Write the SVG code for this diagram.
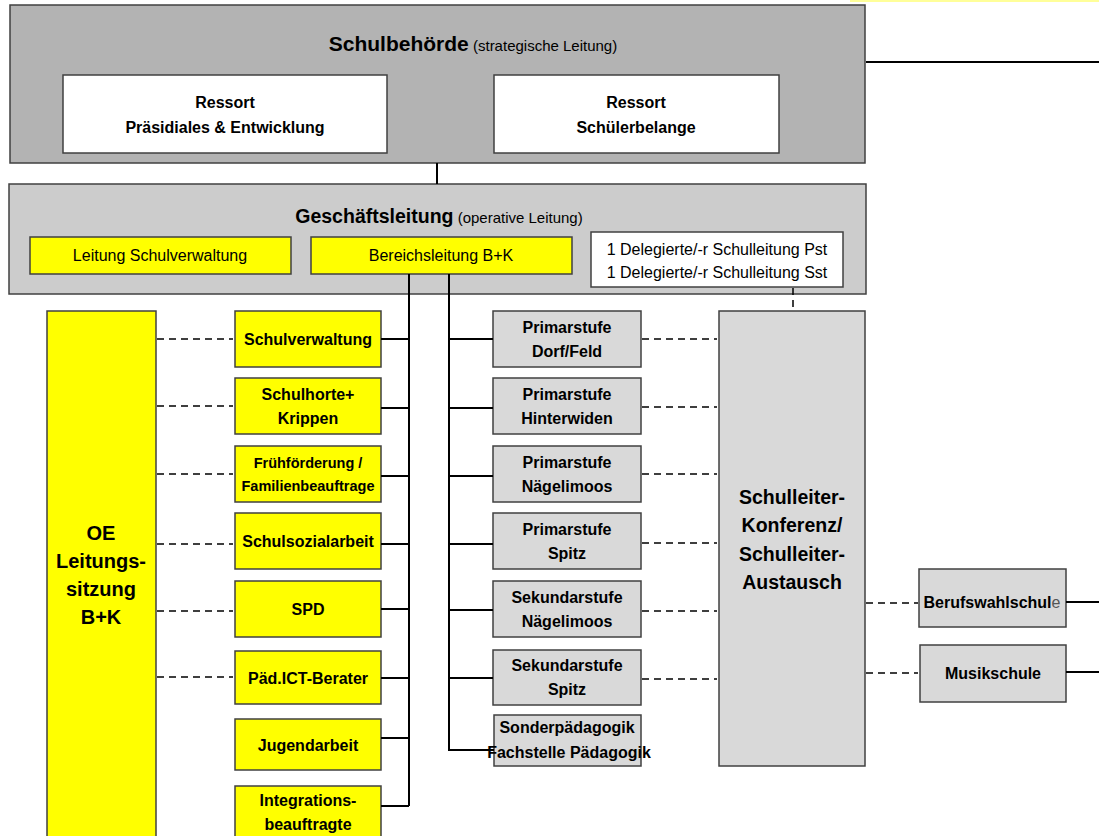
<svg xmlns="http://www.w3.org/2000/svg" width="1099" height="836" viewBox="0 0 1099 836">
<style>
text{font-family:"Liberation Sans",Arial,sans-serif;fill:#000;text-anchor:middle}
.b{font-weight:bold}
.box{stroke:#404040;stroke-width:1.5}
.y{fill:#ffff00}
.g{fill:#d9d9d9}
.w{fill:#ffffff}
.ln{stroke:#000;stroke-width:2;fill:none}
.d{stroke:#000;stroke-width:1.5;stroke-dasharray:7,5;fill:none}
.s16{font-size:16px}
</style>
<rect x="850" y="0" width="249" height="2" fill="#ffff99"/>
<g id="schulbehoerde">
<rect class="box" x="10" y="5" width="855" height="158" fill="#b3b3b3"/>
<text x="473" y="51"><tspan class="b" font-size="21">Schulbehörde</tspan><tspan font-size="15"> (strategische Leitung)</tspan></text>
</g>
<g id="ressort1">
<rect class="box w" x="63" y="75" width="324" height="78"/>
<text class="b s16" x="225" y="108">Ressort</text>
<text class="b s16" x="225" y="133">Präsidiales &amp; Entwicklung</text>
</g>
<g id="ressort2">
<rect class="box w" x="494" y="75" width="285" height="78"/>
<text class="b s16" x="636" y="108">Ressort</text>
<text class="b s16" x="636" y="133">Schülerbelange</text>
</g>
<g id="geschaeftsleitung">
<rect class="box" x="9" y="184" width="857" height="110" fill="#cccccc"/>
<text x="439" y="223"><tspan class="b" font-size="19.5">Geschäftsleitung</tspan><tspan font-size="15"> (operative Leitung)</tspan></text>
</g>
<g id="leitung-schulverwaltung">
<rect class="box y" x="30" y="237" width="261" height="37"/>
<text class="s16" x="160" y="261">Leitung Schulverwaltung</text>
</g>
<g id="bereichsleitung">
<rect class="box y" x="311" y="237" width="261" height="37"/>
<text class="s16" x="441" y="261">Bereichsleitung B+K</text>
</g>
<g id="delegierte">
<rect class="box w" x="591" y="232" width="252" height="55"/>
<text class="s16" x="717" y="255">1 Delegierte/-r Schulleitung Pst</text>
<text class="s16" x="717" y="278">1 Delegierte/-r Schulleitung Sst</text>
</g>
<g id="oe">
<rect class="box y" x="47" y="311" width="109" height="530"/>
<text class="b" font-size="20" x="101" y="540">OE</text>
<text class="b" font-size="20" x="101" y="568">Leitungs-</text>
<text class="b" font-size="20" x="101" y="596">sitzung</text>
<text class="b" font-size="20" x="101" y="624">B+K</text>
</g>
<g id="schulverwaltung">
<rect class="box y" x="235" y="311" width="146" height="56"/>
<text class="b s16" x="308" y="345">Schulverwaltung</text>
</g>
<g id="schulhorte">
<rect class="box y" x="235" y="378" width="146" height="56"/>
<text class="b s16" x="308" y="400">Schulhorte+</text>
<text class="b s16" x="308" y="424">Krippen</text>
</g>
<g id="fruehfoerderung">
<rect class="box y" x="235" y="446" width="146" height="56"/>
<text class="b" font-size="14.5" x="308" y="468">Frühförderung /</text>
<text class="b" font-size="14.5" x="308" y="491">Familienbeauftrage</text>
</g>
<g id="schulsozialarbeit">
<rect class="box y" x="235" y="513" width="146" height="56"/>
<text class="b s16" x="308" y="547">Schulsozialarbeit</text>
</g>
<g id="spd">
<rect class="box y" x="235" y="581" width="146" height="56"/>
<text class="b s16" x="308" y="615">SPD</text>
</g>
<g id="ict">
<rect class="box y" x="235" y="651" width="146" height="53"/>
<text class="b s16" x="308" y="684">Päd.ICT-Berater</text>
</g>
<g id="jugendarbeit">
<rect class="box y" x="235" y="719" width="146" height="51"/>
<text class="b s16" x="308" y="751">Jugendarbeit</text>
</g>
<g id="integration">
<rect class="box y" x="235" y="786" width="146" height="55"/>
<text class="b s16" x="308" y="806">Integrations-</text>
<text class="b s16" x="308" y="830">beauftragte</text>
</g>
<g id="ps-dorf">
<rect class="box g" x="493" y="311" width="148" height="56"/>
<text class="b s16" x="567" y="333">Primarstufe</text>
<text class="b s16" x="567" y="357">Dorf/Feld</text>
</g>
<g id="ps-hinterwiden">
<rect class="box g" x="493" y="378" width="148" height="56"/>
<text class="b s16" x="567" y="400">Primarstufe</text>
<text class="b s16" x="567" y="424">Hinterwiden</text>
</g>
<g id="ps-naegelimoos">
<rect class="box g" x="493" y="446" width="148" height="56"/>
<text class="b s16" x="567" y="468">Primarstufe</text>
<text class="b s16" x="567" y="492">Nägelimoos</text>
</g>
<g id="ps-spitz">
<rect class="box g" x="493" y="513" width="148" height="56"/>
<text class="b s16" x="567" y="535">Primarstufe</text>
<text class="b s16" x="567" y="559">Spitz</text>
</g>
<g id="ss-naegelimoos">
<rect class="box g" x="493" y="581" width="148" height="56"/>
<text class="b s16" x="567" y="603">Sekundarstufe</text>
<text class="b s16" x="567" y="627">Nägelimoos</text>
</g>
<g id="ss-spitz">
<rect class="box g" x="493" y="650" width="148" height="55"/>
<text class="b s16" x="567" y="671">Sekundarstufe</text>
<text class="b s16" x="567" y="695">Spitz</text>
</g>
<g id="sonderpaedagogik">
<rect class="box g" x="494" y="715" width="147" height="51"/>
<text class="b" font-size="16" x="567" y="733">Sonderpädagogik</text>
<text class="b" font-size="16" x="569" y="758">Fachstelle Pädagogik</text>
</g>
<g id="schulleiter">
<rect class="box g" x="719" y="311" width="146" height="455"/>
<text class="b" font-size="19.5" x="792" y="504">Schulleiter-</text>
<text class="b" font-size="19.5" x="792" y="532">Konferenz/</text>
<text class="b" font-size="19.5" x="792" y="561">Schulleiter-</text>
<text class="b" font-size="19.5" x="792" y="589">Austausch</text>
</g>
<g id="berufswahlschule">
<rect class="box g" x="919" y="569" width="147" height="58"/>
<text class="s16" x="992" y="608"><tspan class="b">Berufswahlschul</tspan><tspan fill="#555">e</tspan></text>
</g>
<g id="musikschule">
<rect class="box g" x="920" y="645" width="146" height="57"/>
<text class="b s16" x="993" y="679">Musikschule</text>
</g>
<g id="connectors">
<path class="ln" d="M866 62H1099M437 163V184"/>
<path class="ln" d="M409 274V806M381 339H409M381 408H409M381 476H409M381 544H409M381 609H409M381 678H409M381 738H409M381 806H409"/>
<path class="ln" d="M449 274V750H494M449 339H493M449 408H493M449 476H493M449 544H493M449 610H493M449 678H493"/>
<path class="d" d="M793 288V311" stroke-dasharray="5,3"/>
<path class="d" d="M157 339H233M157 406H233M157 474H233M157 544H233M157 611H233M157 677H233"/>
<path class="d" d="M642 339H717M642 407H717M642 474H717M642 543H717M642 611H717M642 679H717"/>
<path class="d" d="M866 603H918M866 673H918"/>
<path class="ln" d="M1066 602H1099M1066 672H1099"/>
</g>
</svg>
